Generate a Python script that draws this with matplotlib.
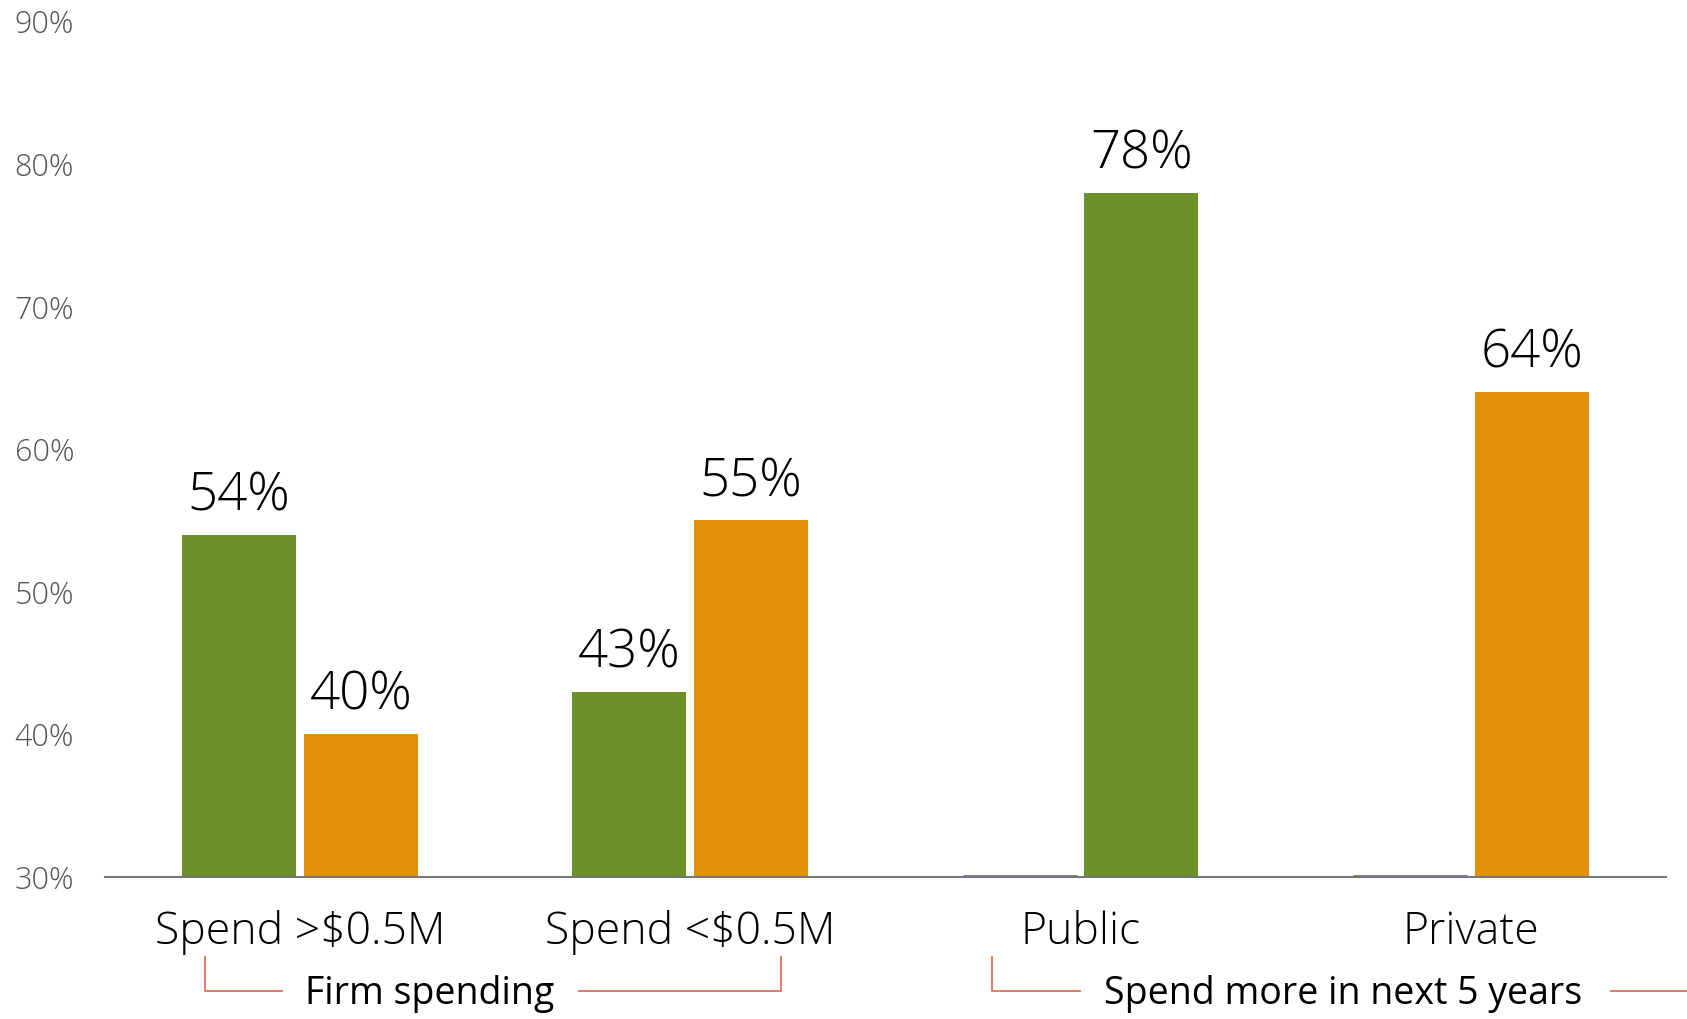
import matplotlib.pyplot as plt
from matplotlib import transforms

# survey results, percent of respondents
groups = ["Spend >$0.5M", "Spend <$0.5M", "Public", "Private"]
left_vals = [54, 43, 30, 30]
right_vals = [40, 55, 78, 64]
left_colors = ["#6C9129", "#6C9129", "#6C9129", "#6C9129"]
right_colors = ["#E3910B", "#E3910B", "#6C9129", "#E3910B"]
left_labels = ["54%", "43%", "", ""]
right_labels = ["40%", "55%", "78%", "64%"]
yticks = [30, 40, 50, 60, 70, 80, 90]

plt.rcParams["font.family"] = ["Open Sans", "DejaVu Sans"]

fig = plt.figure(figsize=(16.87, 10.19), dpi=100)
ax = fig.add_axes([0.0622, 0.1394, 0.9253, 0.8396])

base = 30
w = 0.292
off = 0.156
x = list(range(len(groups)))

# empty bars still get a thin stroke on the baseline
left_lw = [3.5 if v == base else 0 for v in left_vals]
ax.bar([i - off for i in x], [v - base for v in left_vals], width=w, bottom=base,
       color=left_colors, edgecolor=left_colors, linewidth=left_lw, zorder=1)
ax.bar([i + off for i in x], [v - base for v in right_vals], width=w, bottom=base,
       color=right_colors, edgecolor="none", zorder=1)

for i in x:
    if left_labels[i]:
        ax.text(i - off, left_vals[i] + 0.8, left_labels[i], ha="center", va="bottom",
                fontsize=38, fontweight="light", color="#000000")
    ax.text(i + off, right_vals[i] + 0.8, right_labels[i], ha="center", va="bottom",
            fontsize=38, fontweight="light", color="#000000")

ax.set_xlim(-0.5, 3.5)
ax.set_ylim(30, 90)
ax.set_yticks(yticks)
ax.set_yticklabels([f"{t}%" for t in yticks], fontsize=22, fontweight="light", color="#555555")
for lab in ax.get_yticklabels():
    lab.set_horizontalalignment("left")
ax.tick_params(axis="y", length=0, pad=65)
ax.set_xticks(x)
ax.set_xticklabels(groups, fontsize=32, fontweight="light", color="#000000")
ax.tick_params(axis="x", length=0, pad=24)

for s in ["top", "right", "left"]:
    ax.spines[s].set_visible(False)
ax.spines["bottom"].set_color("#777777")
ax.spines["bottom"].set_linewidth(1.5)
ax.spines["bottom"].set_zorder(3)

# group brackets under the category labels
tr = transforms.blended_transform_factory(ax.transData, ax.transAxes)
red = "#E0705A"
y_top, y_bot = -0.094, -0.133
ax.plot([-0.244, -0.244, -0.045], [y_top, y_bot, y_bot], color=red, lw=1.3,
        transform=tr, clip_on=False)
ax.plot([0.714, 1.232, 1.232], [y_bot, y_bot, y_top], color=red, lw=1.3,
        transform=tr, clip_on=False)
ax.text(0.332, y_bot - 0.004, "Firm spending", transform=tr, ha="center", va="center",
        fontsize=27, color="#000000")
ax.plot([1.772, 1.772, 1.998], [y_top, y_bot, y_bot], color=red, lw=1.3,
        transform=tr, clip_on=False)
ax.plot([3.36, 3.6], [y_bot, y_bot], color=red, lw=1.3, transform=tr, clip_on=False)
ax.text(2.673, y_bot - 0.004, "Spend more in next 5 years", transform=tr, ha="center",
        va="center", fontsize=27, color="#000000")

fig.savefig("out.png", dpi=100)
